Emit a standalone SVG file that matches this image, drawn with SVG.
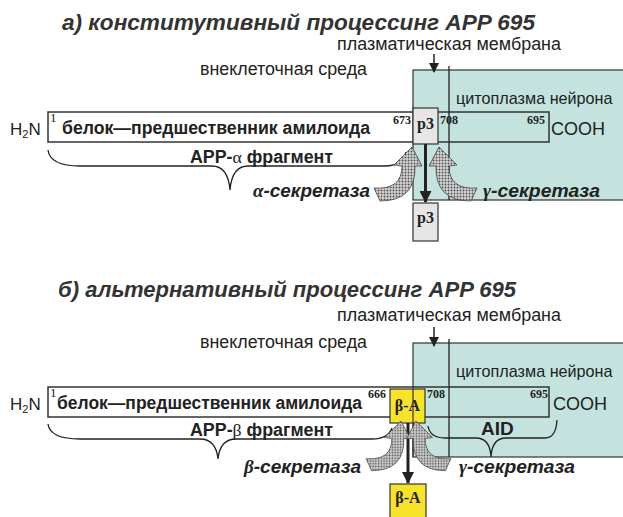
<svg xmlns="http://www.w3.org/2000/svg" width="623" height="517" viewBox="0 0 623 517">
<defs>
<style>
.ti{font-family:"Liberation Sans",Arial,sans-serif;font-weight:bold;font-style:italic;font-size:22.5px;fill:#333}
.lbl{font-family:"Liberation Sans",Arial,sans-serif;font-size:17.5px;fill:#222}
.b{font-family:"Liberation Sans",Arial,sans-serif;font-weight:bold;font-size:17.6px;fill:#222}
.bi{font-family:"Liberation Sans",Arial,sans-serif;font-weight:bold;font-style:italic;font-size:19px;fill:#222}
.num{font-family:"Liberation Serif","Times New Roman",serif;font-weight:bold;font-size:12px;fill:#222}
.gr{font-family:"Liberation Serif","Times New Roman",serif}
.box{font-family:"Liberation Serif","Times New Roman",serif;font-weight:bold;font-size:16px;fill:#222}
.cyto{font-family:"Liberation Sans",Arial,sans-serif;font-size:16.2px;fill:#222}
.cell{fill:#c4e3de;stroke:#333;stroke-width:1.2}
.prot{fill:none;stroke:#333;stroke-width:1.5}
.mem{stroke:#222;stroke-width:1.3}
.brace{fill:none;stroke:#222;stroke-width:1.3}
.enz{fill:url(#dots);stroke:#444;stroke-width:0.8}
.bigarrow{stroke:#222;stroke-width:3}
</style>
<pattern id="dots" width="3" height="3" patternUnits="userSpaceOnUse">
<rect width="3" height="3" fill="#d4d4d4"/>
<circle cx="1.5" cy="1.5" r="0.95" fill="#505050"/>
</pattern>
<marker id="ah" markerWidth="10" markerHeight="10" refX="9" refY="5" orient="auto" markerUnits="userSpaceOnUse">
<path d="M0,0 L10,5 L0,10 Z" fill="#222"/>
</marker>
<marker id="ahb" markerWidth="12" markerHeight="12" refX="11" refY="6" orient="auto" markerUnits="userSpaceOnUse">
<path d="M0,0 L12,6 L0,12 Z" fill="#222"/>
</marker>
<path id="enzL" d="M-39,41 Q-11,43 -11,19 L-19,18 L-1,0 L9,19 L2,19 Q3,54 -33,54 Z"/>
</defs>
<rect width="623" height="517" fill="#fff"/>

<!-- ===== Section a ===== -->
<g id="title-a"><text class="ti" x="62" y="30" textLength="473" lengthAdjust="spacingAndGlyphs">а) конститутивный процессинг APP 695</text></g>
<g id="membrane-label-a"><text class="lbl" x="337" y="50" textLength="224" lengthAdjust="spacingAndGlyphs">плазматическая мембрана</text></g>
<g id="extracell-a"><text class="lbl" x="200" y="75" textLength="167" lengthAdjust="spacingAndGlyphs">внеклеточная среда</text></g>
<g id="protein-a-bg"><rect x="48" y="112" width="366" height="30" fill="#fff"/></g>
<g id="cytoplasm-a"><rect class="cell" x="413" y="70" width="211" height="130"/></g>
<g id="cytoplasm-label-a"><text class="cyto" x="456" y="104">цитоплазма нейрона</text></g>
<g id="protein-a">
<rect class="prot" x="48" y="112" width="501" height="30"/>
<text class="lbl" x="10" y="135" style="font-size:17px">H<tspan font-size="11" dy="3">2</tspan><tspan dy="-3">N</tspan></text>
<text class="num" x="50" y="122" style="font-weight:normal;font-size:13px">1</text>
<text class="b" x="62" y="134" textLength="308" lengthAdjust="spacingAndGlyphs">белок—предшественник амилоида</text>
<text class="num" x="393" y="124">673</text>
<text class="num" x="440" y="124">708</text>
<text class="num" x="527" y="124">695</text>
<text class="lbl" x="551" y="135" style="font-size:18px">COOH</text>
</g>
<g id="p3-a">
<rect x="413" y="108" width="25" height="36" fill="#e6e6e6" stroke="#333" stroke-width="1.2"/>
<text class="box" x="425.5" y="129" text-anchor="middle">p3</text>
</g>
<g id="p3-out-a">
<rect x="413" y="203" width="25" height="38" fill="#e6e6e6" stroke="#333" stroke-width="1.2"/>
<text class="box" x="425.5" y="223" text-anchor="middle">p3</text>
</g>
<g id="alpha-frag-a"><text class="b" x="190" y="163" textLength="143" lengthAdjust="spacingAndGlyphs">APP-<tspan class="gr" font-weight="normal">α</tspan> фрагмент</text></g>
<g id="alpha-sec-a"><text class="bi" x="253" y="197" textLength="117" lengthAdjust="spacingAndGlyphs"><tspan class="gr">α</tspan>-секретаза</text></g>
<g id="gamma-sec-a"><text class="bi" x="483" y="197" textLength="117" lengthAdjust="spacingAndGlyphs"><tspan class="gr">γ</tspan>-секретаза</text></g>

<!-- ===== Section b ===== -->
<g id="title-b"><text class="ti" x="58" y="297" textLength="458" lengthAdjust="spacingAndGlyphs">б) альтернативный процессинг APP 695</text></g>
<g id="membrane-label-b"><text class="lbl" x="337" y="321" textLength="224" lengthAdjust="spacingAndGlyphs">плазматическая мембрана</text></g>
<g id="extracell-b"><text class="lbl" x="200" y="348" textLength="167" lengthAdjust="spacingAndGlyphs">внеклеточная среда</text></g>
<g id="protein-b-bg"><rect x="48" y="387" width="366" height="30" fill="#fff"/></g>
<g id="cytoplasm-b"><rect class="cell" x="413" y="343" width="211" height="114"/></g>
<g id="cytoplasm-label-b"><text class="cyto" x="456" y="377">цитоплазма нейрона</text></g>
<g id="protein-b">
<rect class="prot" x="48" y="387" width="501" height="30"/>
<text class="lbl" x="10" y="410" style="font-size:17px">H<tspan font-size="11" dy="3">2</tspan><tspan dy="-3">N</tspan></text>
<text class="num" x="50" y="397" style="font-weight:normal;font-size:13px">1</text>
<text class="b" x="57" y="409" textLength="305" lengthAdjust="spacingAndGlyphs">белок—предшественник амилоида</text>
<text class="num" x="368" y="398">666</text>
<text class="num" x="427" y="398">708</text>
<text class="num" x="530" y="398">695</text>
<text class="lbl" x="553" y="410" style="font-size:18px">COOH</text>
</g>
<g id="ba-b">
<rect x="390" y="389" width="35" height="34" fill="#f7e32a" stroke="#333" stroke-width="1.2"/>
<text class="box" x="407.5" y="411" text-anchor="middle">β-A</text>
</g>
<g id="ba-out-b">
<rect x="390" y="484" width="36" height="40" fill="#f7e32a" stroke="#333" stroke-width="1.2"/>
<text class="box" x="408" y="503" text-anchor="middle">β-A</text>
</g>
<g id="beta-frag-b"><text class="b" x="190" y="436" textLength="143" lengthAdjust="spacingAndGlyphs">APP-<tspan class="gr" font-weight="normal">β</tspan> фрагмент</text></g>
<g id="aid-b"><text class="b" x="481" y="435" style="font-size:19px">AID</text></g>
<g id="beta-sec-b"><text class="bi" x="244" y="473" textLength="117" lengthAdjust="spacingAndGlyphs"><tspan class="gr">β</tspan>-секретаза</text></g>
<g id="gamma-sec-b"><text class="bi" x="459" y="473" textLength="116" lengthAdjust="spacingAndGlyphs"><tspan class="gr">γ</tspan>-секретаза</text></g>

<!-- ===== Connectors ===== -->
<g id="connectors">
<line class="mem" x1="449" y1="66" x2="449" y2="200"/>
<line class="mem" x1="449" y1="339" x2="449" y2="457"/>
<line x1="413" y1="389" x2="413" y2="457" stroke="#333" stroke-width="1.2"/>
<line x1="434" y1="54" x2="434" y2="72" stroke="#222" stroke-width="1.5" marker-end="url(#ah)"/>
<line x1="434" y1="327" x2="434" y2="346" stroke="#222" stroke-width="1.5" marker-end="url(#ah)"/>
<path class="brace" d="M48,150 Q50,166 80,166 L212,166 Q228,166 230,190 Q232,166 248,166 L385,166 Q402,166 406,152"/>
<path class="brace" d="M48,424 Q50,439 80,439 L200,439 Q216,439 218,459 Q220,439 236,439 L372,439 Q388,439 392,428"/>
<path class="brace" d="M428,426 Q430,438 445,438 L476,438 Q490,438 491,457 Q492,438 506,438 L545,438 Q556,438 557,420"/>
<line class="bigarrow" x1="425.5" y1="144" x2="425.5" y2="202" marker-end="url(#ahb)"/>
<line class="bigarrow" x1="408" y1="423" x2="408" y2="483" marker-end="url(#ahb)"/>
<use href="#enzL" class="enz" transform="translate(413,147)"/>
<use href="#enzL" class="enz" transform="translate(438,147) scale(-1,1)"/>
<use href="#enzL" class="enz" transform="translate(402,421) scale(0.92)"/>
<use href="#enzL" class="enz" transform="translate(415,421) scale(-0.92,0.92)"/>
</g>
</svg>
